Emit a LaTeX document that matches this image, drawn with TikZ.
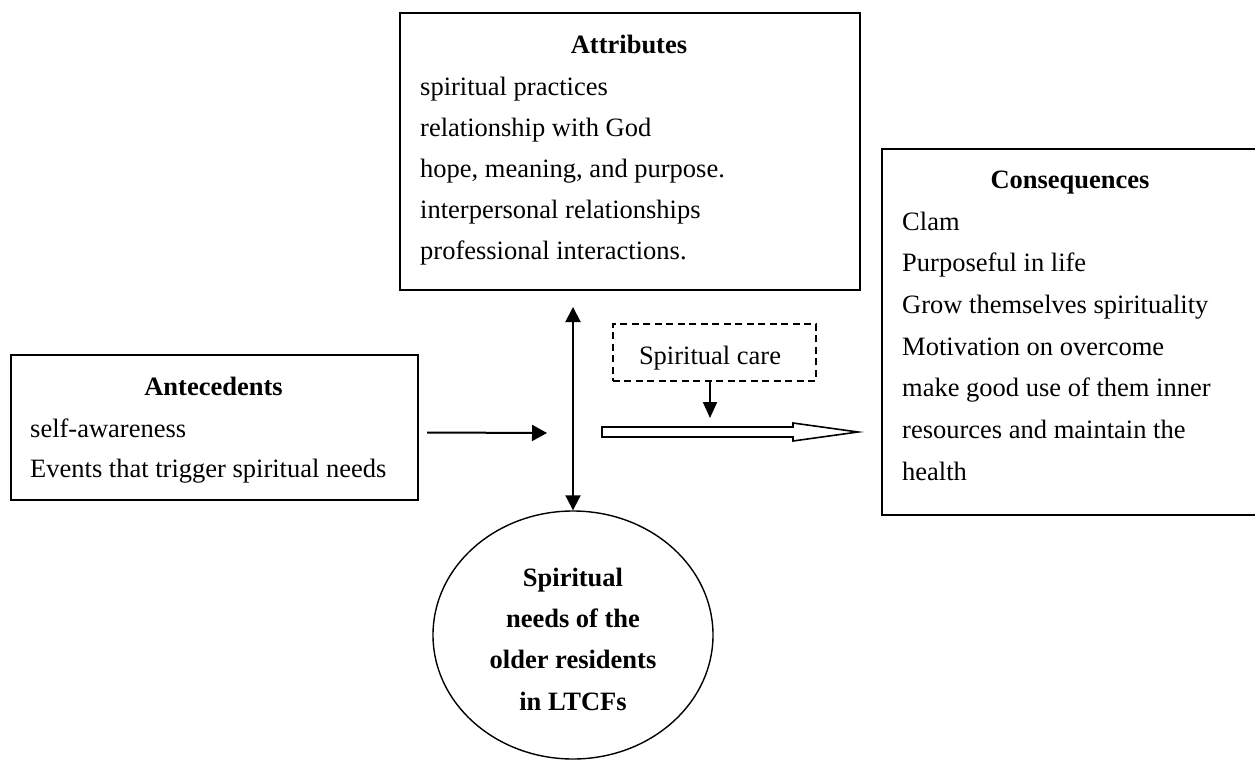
\documentclass[tikz,border=0pt]{standalone}
\usepackage{fontspec}
\setmainfont{Liberation Serif}
\usetikzlibrary{arrows.meta,shapes.geometric}
\begin{document}
\begin{tikzpicture}[x=1pt,y=-1pt,
  box/.style={draw,line width=1.6pt,inner sep=0pt,anchor=north west},
  txt/.style={anchor=base west,inner sep=0pt,font=\fontsize{26.5}{30}\selectfont},
  ttl/.style={anchor=base,inner sep=0pt,font=\fontsize{26.5}{30}\selectfont\bfseries},
  con/.style={line width=2pt,-{Triangle[length=15pt,width=16pt]}},
  dcon/.style={line width=2pt,{Triangle[length=15pt,width=15pt]}-{Triangle[length=15pt,width=15pt]}}]
\useasboundingbox (0,0) rectangle (1255,760);
\begin{scope}
\clip (0,0) rectangle (1255,760);
% Attributes
\node[box,minimum width=460pt,minimum height=277pt] (attr) at (399,12) {};
\node[ttl] (attrT) at (629,53) {Attributes};
\node[txt] (a1) at (420,95) {spiritual practices};
\node[txt] (a2) at (420,136.2) {relationship with God};
\node[txt] (a3) at (420,177.4) {hope, meaning, and purpose.};
\node[txt] (a4) at (420,218.6) {interpersonal relationships};
\node[txt] (a5) at (420,259.8) {professional interactions.};
% Antecedents
\node[box,minimum width=407pt,minimum height=145pt] (ante) at (10,354) {};
\node[ttl] (anteT) at (213.5,395) {Antecedents};
\node[txt] (b1) at (30,437) {self-awareness};
\node[txt] (b2) at (30,477.5) {Events that trigger spiritual needs};
% Consequences
\node[box,minimum width=378pt,minimum height=366pt] (cons) at (881,148) {};
\node[ttl] (consT) at (1070,188) {Consequences};
\node[txt] (c1) at (902,230) {Clam};
\node[txt] (c2) at (902,271.7) {Purposeful in life};
\node[txt] (c3) at (902,313.3) {Grow themselves spirituality};
\node[txt] (c4) at (902,355) {Motivation on overcome};
\node[txt] (c5) at (902,396.7) {make good use of them inner};
\node[txt] (c6) at (902,438.3) {resources and maintain the};
\node[txt] (c7) at (902,480) {health};
\end{scope}
% Spiritual care (dashed)
\node[box,line width=1.8pt,dash pattern=on 7pt off 4.5pt,minimum width=203pt,minimum height=57pt] (care) at (612,323) {};
\node[anchor=base,inner sep=0pt,font=\fontsize{26.5}{30}\selectfont] (careT) at (710,364) {Spiritual care};
% Central ellipse
\node[draw,line width=1.4pt,ellipse,minimum width=280pt,minimum height=248pt,inner sep=0pt] (need) at (573,635) {};
\node[ttl] (n1) at (573,586) {Spiritual};
\node[ttl] (n2) at (573,627.3) {needs of the};
\node[ttl] (n3) at (573,668.6) {older residents};
\node[ttl] (n4) at (573,710) {in LTCFs};
% Connectors
\coordinate (vt) at (573,307);
\draw[dcon] (vt) -- (need.north);
\coordinate (aS) at (427,432.5);
\coordinate (aE) at (547,433);
\draw[con] (aS) -- (aE);
\coordinate (cE) at (710,418);
\draw[line width=2pt,-{Triangle[length=16pt,width=14pt]}] (care.south -| cE) -- (cE);
% Hollow arrow
\draw[line width=1.6pt,fill=white,line join=miter] (602,427) -- (793,427) -- (793,423) -- (858,432) -- (793,441) -- (793,437) -- (602,437) -- cycle;
\end{tikzpicture}
\end{document}
